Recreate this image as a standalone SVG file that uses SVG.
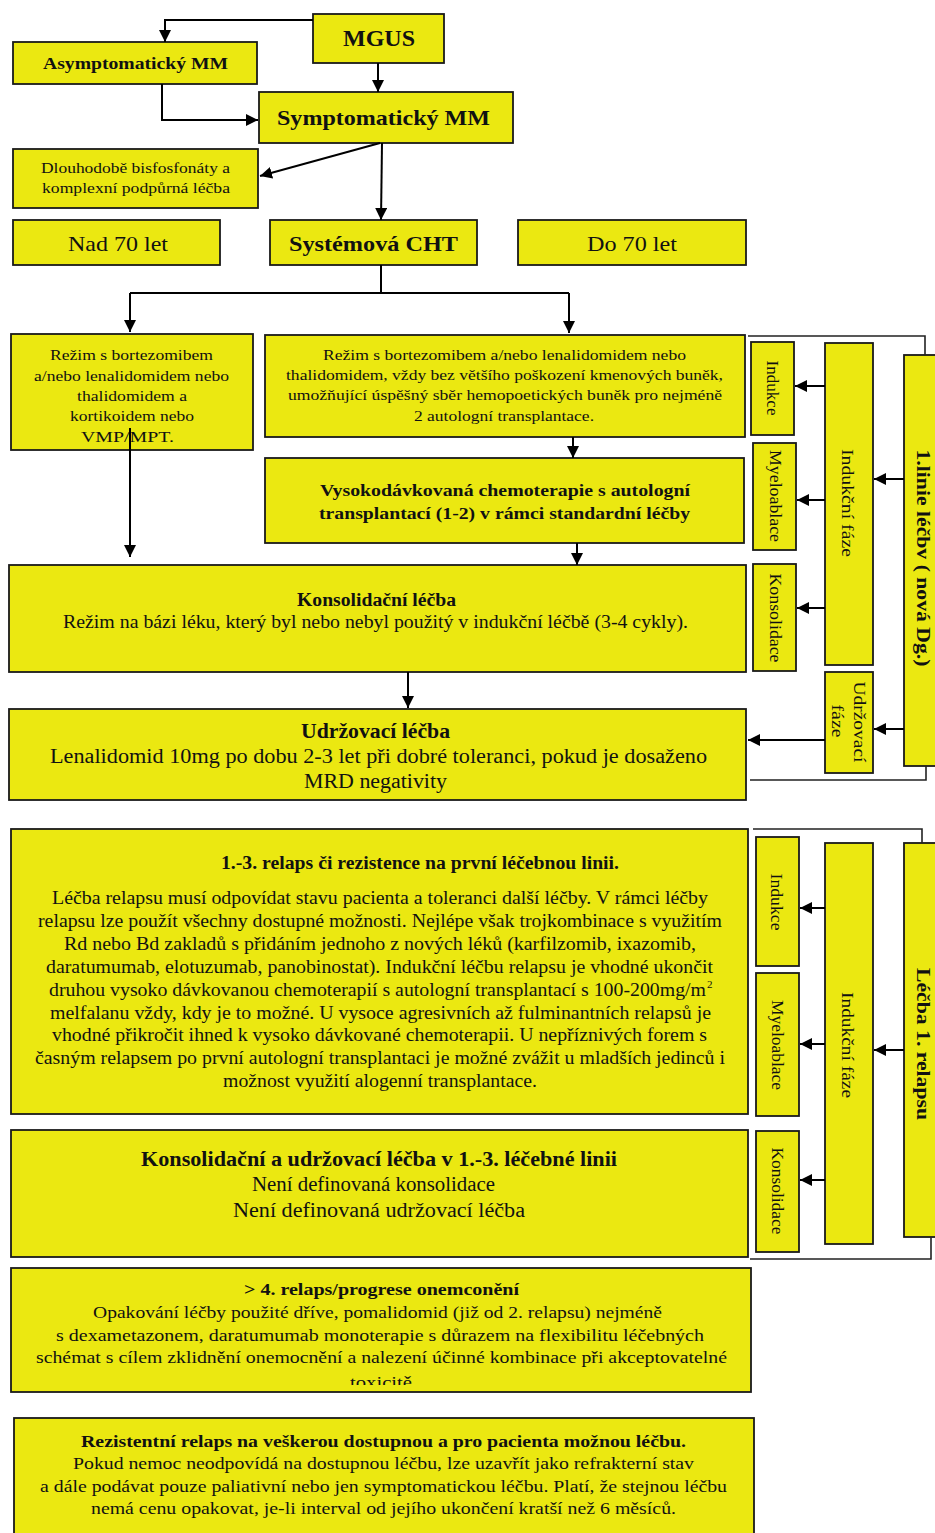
<svg xmlns="http://www.w3.org/2000/svg" width="935" height="1533" viewBox="0 0 935 1533">
<style>
.box{fill:#EBE811;stroke:#1a1a1a;stroke-width:1.8}
.t{font-family:"Liberation Serif","Times New Roman",serif;fill:#111}
.b{font-weight:bold}
.c{text-anchor:middle}
.ln{fill:none;stroke:#000;stroke-width:2}
.br{fill:none;stroke:#222;stroke-width:1.6}
</style>
<defs>
<marker id="ah" markerWidth="12" markerHeight="12" refX="12" refY="6" orient="auto" markerUnits="userSpaceOnUse"><path d="M0,0 L12,6 L0,12 z" fill="#000"/></marker>
<clipPath id="clip4"><rect x="11" y="1268" width="740" height="117"/></clipPath>
</defs>
<rect width="935" height="1533" fill="#fff"/>

<g id="mgus"><rect class="box" x="313" y="14" width="131" height="49"/>
<text class="t b" x="343" y="46" font-size="24" textLength="72" lengthAdjust="spacingAndGlyphs">MGUS</text></g>

<g id="asym"><rect class="box" x="13" y="42" width="244" height="42"/>
<text class="t b" x="43" y="69" font-size="17" textLength="185" lengthAdjust="spacingAndGlyphs">Asymptomatický MM</text></g>

<g id="symp"><rect class="box" x="259" y="92" width="254" height="51"/>
<text class="t b" x="277" y="125" font-size="22" textLength="213" lengthAdjust="spacingAndGlyphs">Symptomatický MM</text></g>

<g id="dlouh"><rect class="box" x="13" y="149" width="245" height="59"/>
<text class="t" x="41" y="173" font-size="15" textLength="189" lengthAdjust="spacingAndGlyphs">Dlouhodobě bisfosfonáty a</text>
<text class="t" x="42" y="193" font-size="15" textLength="188" lengthAdjust="spacingAndGlyphs">komplexní podpůrná léčba</text></g>

<g id="nad70"><rect class="box" x="13" y="220" width="207" height="45"/>
<text class="t" x="68" y="251" font-size="22" textLength="100" lengthAdjust="spacingAndGlyphs">Nad 70 let</text></g>

<g id="syst"><rect class="box" x="270" y="220" width="207" height="45"/>
<text class="t b" x="289" y="251" font-size="22" textLength="169" lengthAdjust="spacingAndGlyphs">Systémová CHT</text></g>

<g id="do70"><rect class="box" x="518" y="220" width="228" height="45"/>
<text class="t" x="587" y="251" font-size="22" textLength="90" lengthAdjust="spacingAndGlyphs">Do 70 let</text></g>

<g id="rezim-left"><rect class="box" x="11" y="334" width="242" height="116"/>
<text class="t" x="50" y="360" font-size="15" textLength="163" lengthAdjust="spacingAndGlyphs">Režim s bortezomibem</text>
<text class="t" x="34" y="381" font-size="15" textLength="195" lengthAdjust="spacingAndGlyphs">a/nebo lenalidomidem nebo</text>
<text class="t" x="77" y="401" font-size="15" textLength="110" lengthAdjust="spacingAndGlyphs">thalidomidem a</text>
<text class="t" x="70" y="421" font-size="15" textLength="124" lengthAdjust="spacingAndGlyphs">kortikoidem nebo</text>
<text class="t" x="81" y="442" font-size="15" textLength="93" lengthAdjust="spacingAndGlyphs">VMP/MPT.</text></g>

<g id="rezim-right"><rect class="box" x="265" y="335" width="480" height="102"/>
<text class="t" x="323" y="360" font-size="15.5" textLength="363" lengthAdjust="spacingAndGlyphs">Režim s bortezomibem a/nebo lenalidomidem nebo</text>
<text class="t" x="286" y="380" font-size="15.5" textLength="437" lengthAdjust="spacingAndGlyphs">thalidomidem, vždy bez většího poškození kmenových buněk,</text>
<text class="t" x="288" y="400" font-size="15.5" textLength="434" lengthAdjust="spacingAndGlyphs">umožňující úspěšný sběr hemopoetických buněk pro nejméně</text>
<text class="t" x="414" y="421" font-size="15.5" textLength="180" lengthAdjust="spacingAndGlyphs">2 autologní transplantace.</text></g>

<g id="vysok"><rect class="box" x="265" y="458" width="479" height="85"/>
<text class="t b" x="320" y="496" font-size="16.5" textLength="370" lengthAdjust="spacingAndGlyphs">Vysokodávkovaná chemoterapie s autologní</text>
<text class="t b" x="319" y="519" font-size="16.5" textLength="371" lengthAdjust="spacingAndGlyphs">transplantací (1-2) v rámci standardní léčby</text></g>

<g id="konsol"><rect class="box" x="9" y="565" width="737" height="107"/>
<text class="t b" x="297" y="606" font-size="18" textLength="159" lengthAdjust="spacingAndGlyphs">Konsolidační léčba</text>
<text class="t" x="63" y="628" font-size="18" textLength="625" lengthAdjust="spacingAndGlyphs">Režim na bázi léku, který byl nebo nebyl použitý v indukční léčbě (3-4 cykly).</text></g>

<g id="udrz"><rect class="box" x="9" y="709" width="737" height="91"/>
<text class="t b" x="301" y="738" font-size="20" textLength="149" lengthAdjust="spacingAndGlyphs">Udržovací léčba</text>
<text class="t" x="50" y="763" font-size="20" textLength="657" lengthAdjust="spacingAndGlyphs">Lenalidomid 10mg  po dobu 2-3 let při dobré toleranci, pokud je dosaženo</text>
<text class="t" x="304" y="788" font-size="20" textLength="143" lengthAdjust="spacingAndGlyphs">MRD negativity</text></g>

<g id="linie1-indukce"><rect class="box" x="751" y="342" width="43" height="93"/>
<text class="t c" transform="translate(773,388) rotate(90)" dy="0.35em" font-size="16" textLength="55" lengthAdjust="spacingAndGlyphs">Indukce</text></g>
<g id="linie1-myelo"><rect class="box" x="753" y="443" width="43" height="107"/>
<text class="t c" transform="translate(776,496) rotate(90)" dy="0.35em" font-size="16" textLength="92" lengthAdjust="spacingAndGlyphs">Myeloablace</text></g>
<g id="linie1-konsol"><rect class="box" x="753" y="564" width="43" height="107"/>
<text class="t c" transform="translate(776,618) rotate(90)" dy="0.35em" font-size="16" textLength="89" lengthAdjust="spacingAndGlyphs">Konsolidace</text></g>
<g id="linie1-indfaze"><rect class="box" x="825" y="343" width="48" height="322"/>
<text class="t c" transform="translate(848,503) rotate(90)" dy="0.35em" font-size="17" textLength="108" lengthAdjust="spacingAndGlyphs">Indukční fáze</text></g>
<g id="linie1-udrzfaze"><rect class="box" x="825" y="672" width="48" height="101"/>
<text class="t c" transform="translate(860,722) rotate(90)" dy="0.35em" font-size="17" textLength="81" lengthAdjust="spacingAndGlyphs">Udržovací</text>
<text class="t c" transform="translate(838,721) rotate(90)" dy="0.35em" font-size="17" textLength="33" lengthAdjust="spacingAndGlyphs">fáze</text></g>
<g id="linie1"><rect class="box" x="904" y="355" width="50" height="411"/>
<text class="t b c" transform="translate(924,558) rotate(90)" dy="0.35em" font-size="19" textLength="217" lengthAdjust="spacingAndGlyphs">1.linie léčbv ( nová Dg.)</text></g>

<g id="relaps"><rect class="box" x="11" y="829" width="737" height="285"/>
<text class="t b" x="221" y="869" font-size="18" textLength="398" lengthAdjust="spacingAndGlyphs">1.-3. relaps či rezistence na první léčebnou linii.</text>
<text class="t" x="52" y="904" font-size="18" textLength="656" lengthAdjust="spacingAndGlyphs">Léčba relapsu musí odpovídat stavu pacienta a toleranci další léčby. V rámci léčby</text>
<text class="t" x="38" y="927" font-size="18" textLength="684" lengthAdjust="spacingAndGlyphs">relapsu lze použít všechny dostupné možnosti. Nejlépe však trojkombinace s využitím</text>
<text class="t" x="64" y="950" font-size="18" textLength="632" lengthAdjust="spacingAndGlyphs">Rd nebo Bd zakladů s přidáním  jednoho z nových léků (karfilzomib, ixazomib,</text>
<text class="t" x="46" y="973" font-size="18" textLength="667" lengthAdjust="spacingAndGlyphs">daratumumab, elotuzumab, panobinostat). Indukční léčbu relapsu je vhodné ukončit</text>
<text class="t" x="49" y="996" font-size="18" textLength="657" lengthAdjust="spacingAndGlyphs">druhou vysoko dávkovanou chemoterapií s autologní transplantací s 100-200mg/m</text>
<text class="t" x="707" y="988" font-size="11">2</text>
<text class="t" x="50" y="1019" font-size="18" textLength="661" lengthAdjust="spacingAndGlyphs">melfalanu vždy, kdy je to možné. U vysoce agresivních až fulminantních relapsů je</text>
<text class="t" x="52" y="1041" font-size="18" textLength="655" lengthAdjust="spacingAndGlyphs">vhodné přikročit ihned k vysoko dávkované chemoterapii. U nepříznivých forem s</text>
<text class="t" x="35" y="1064" font-size="18" textLength="690" lengthAdjust="spacingAndGlyphs">časným relapsem po první autologní transplantaci je možné zvážit u mladších jedinců i</text>
<text class="t" x="223" y="1087" font-size="18" textLength="314" lengthAdjust="spacingAndGlyphs">možnost využití alogenní transplantace.</text></g>

<g id="konsol-udrz"><rect class="box" x="11" y="1130" width="737" height="127"/>
<text class="t b" x="141" y="1166" font-size="20" textLength="476" lengthAdjust="spacingAndGlyphs">Konsolidační a udržovací léčba v 1.-3. léčebné linii</text>
<text class="t" x="252" y="1191" font-size="20" textLength="243" lengthAdjust="spacingAndGlyphs">Není definovaná konsolidace</text>
<text class="t" x="233" y="1217" font-size="20" textLength="292" lengthAdjust="spacingAndGlyphs">Není definovaná udržovací léčba</text></g>

<g id="relaps-indukce"><rect class="box" x="756" y="837" width="43" height="129"/>
<text class="t c" transform="translate(777,902) rotate(90)" dy="0.35em" font-size="16" textLength="57" lengthAdjust="spacingAndGlyphs">Indukce</text></g>
<g id="relaps-myelo"><rect class="box" x="756" y="973" width="43" height="143"/>
<text class="t c" transform="translate(778,1045) rotate(90)" dy="0.35em" font-size="16" textLength="90" lengthAdjust="spacingAndGlyphs">Myeloablace</text></g>
<g id="relaps-konsol"><rect class="box" x="756" y="1131" width="43" height="121"/>
<text class="t c" transform="translate(778,1191) rotate(90)" dy="0.35em" font-size="16" textLength="87" lengthAdjust="spacingAndGlyphs">Konsolidace</text></g>
<g id="relaps-indfaze"><rect class="box" x="825" y="843" width="48" height="401"/>
<text class="t c" transform="translate(848,1045) rotate(90)" dy="0.35em" font-size="17" textLength="106" lengthAdjust="spacingAndGlyphs">Indukční fáze</text></g>
<g id="relaps-lecba"><rect class="box" x="904" y="843" width="50" height="394"/>
<text class="t b c" transform="translate(924,1044) rotate(90)" dy="0.35em" font-size="19" textLength="152" lengthAdjust="spacingAndGlyphs">Léčba 1. relapsu</text></g>

<g id="relaps4"><rect class="box" x="11" y="1268" width="740" height="124"/>
<g clip-path="url(#clip4)">
<text class="t b" x="244" y="1295" font-size="17" textLength="275" lengthAdjust="spacingAndGlyphs">&gt; 4. relaps/progrese onemconění</text>
<text class="t" x="93" y="1318" font-size="17" textLength="569" lengthAdjust="spacingAndGlyphs">Opakování léčby použité dříve, pomalidomid (již od 2. relapsu) nejméně</text>
<text class="t" x="56" y="1341" font-size="17" textLength="648" lengthAdjust="spacingAndGlyphs">s dexametazonem, daratumumab monoterapie  s důrazem na flexibilitu léčebných</text>
<text class="t" x="36" y="1363" font-size="17" textLength="691" lengthAdjust="spacingAndGlyphs">schémat s cílem zklidnění onemocnění a nalezení účinné kombinace při akceptovatelné</text>
<text class="t" x="350" y="1388" font-size="17" textLength="62" lengthAdjust="spacingAndGlyphs">toxicitě</text>
</g></g>

<g id="rezistentni"><rect class="box" x="14" y="1418" width="740" height="125"/>
<text class="t b" x="81" y="1447" font-size="17" textLength="605" lengthAdjust="spacingAndGlyphs">Rezistentní relaps na veškerou dostupnou a pro pacienta možnou léčbu.</text>
<text class="t" x="73" y="1469" font-size="17" textLength="621" lengthAdjust="spacingAndGlyphs">Pokud nemoc neodpovídá na dostupnou léčbu, lze uzavřít jako refrakterní stav</text>
<text class="t" x="40" y="1492" font-size="17" textLength="687" lengthAdjust="spacingAndGlyphs">a dále podávat pouze paliativní nebo jen symptomatickou léčbu. Platí, že stejnou léčbu</text>
<text class="t" x="91" y="1514" font-size="17" textLength="585" lengthAdjust="spacingAndGlyphs">nemá cenu opakovat, je-li interval od jejího ukončení kratší než 6 měsíců.</text></g>

<g id="connectors">
<path class="ln" d="M313,20 H165 V42" marker-end="url(#ah)"/>
<path class="ln" d="M378,63 V92" marker-end="url(#ah)"/>
<path class="ln" d="M162,84 V120 H258" marker-end="url(#ah)"/>
<path class="ln" d="M380,143 L260,176" marker-end="url(#ah)"/>
<path class="ln" d="M382,143 L381,220" marker-end="url(#ah)"/>
<path class="ln" d="M381,265 V293"/>
<path class="ln" d="M130,293 H569"/>
<path class="ln" d="M130,293 V332" marker-end="url(#ah)"/>
<path class="ln" d="M569,293 V333" marker-end="url(#ah)"/>
<path class="ln" d="M130,428 V557" marker-end="url(#ah)"/>
<path class="ln" d="M573,437 V458" marker-end="url(#ah)"/>
<path class="ln" d="M577,543 V565" marker-end="url(#ah)"/>
<path class="ln" d="M408,672 V708" marker-end="url(#ah)"/>
<path class="br" d="M748,336 H925 V355"/>
<path class="ln" d="M904,479 H874" marker-end="url(#ah)"/>
<path class="ln" d="M825,386 H795" marker-end="url(#ah)"/>
<path class="ln" d="M825,500 H797" marker-end="url(#ah)"/>
<path class="ln" d="M825,608 H797" marker-end="url(#ah)"/>
<path class="ln" d="M904,729 H874" marker-end="url(#ah)"/>
<path class="ln" d="M825,740 H748" marker-end="url(#ah)"/>
<path class="br" d="M926,766 V780 H750"/>
<path class="br" d="M753,829 H922 V843"/>
<path class="ln" d="M904,1050 H874" marker-end="url(#ah)"/>
<path class="ln" d="M825,908 H800" marker-end="url(#ah)"/>
<path class="ln" d="M825,1044 H800" marker-end="url(#ah)"/>
<path class="ln" d="M825,1180 H800" marker-end="url(#ah)"/>
<path class="br" d="M931,1237 V1259 H750"/>
</g>
</svg>
